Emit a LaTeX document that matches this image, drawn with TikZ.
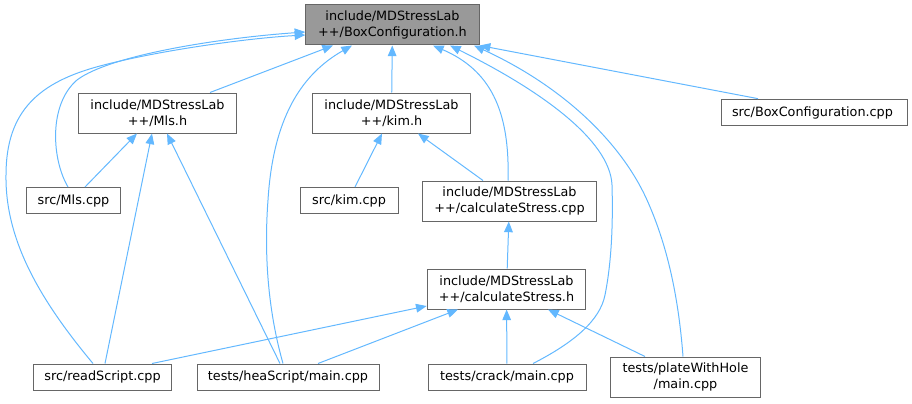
\documentclass[tikz,border=0pt]{standalone}
\usepackage{fontspec}
\setmainfont{DejaVu Sans}
\usepackage{tikz}
\usetikzlibrary{
  arrows.meta,
  positioning
}
\definecolor{EdgeBlue}{HTML}{63B8FF}
\definecolor{NodeBorder}{HTML}{666666}
\definecolor{NodeFill}{HTML}{999999}
\tikzset{
  file/.style={
    draw=NodeBorder,
    line width=0.75pt,
    fill=white,
    align=center,
    inner sep=0pt,
    minimum height=19.5pt
  },
  twoline/.style={
    file,
    minimum height=30pt
  },
  current/.style={
    twoline,
    fill=NodeFill
  },
  incl/.style={
    -{Triangle[length=8pt,width=6.5pt]},
    draw=EdgeBlue,
    line width=0.75pt
  }
}

\begin{document}
\begin{tikzpicture}[
  x=0.75pt,
  y=-0.75pt,
  font=\fontsize{9.6}{11.8}\selectfont
]

  \useasboundingbox (0,0) rectangle (912,403);

  % header that is included by all others
  \node[current, minimum width=130pt] (box) at (392.5,25) {
    include/MDStressLab\\
    ++/BoxConfiguration.h
  };

  % second row
  \node[twoline, minimum width=119pt] (mlsh) at (157.5,113) {
    include/MDStressLab\\
    ++/Mls.h
  };
  \node[twoline, minimum width=119pt] (kimh) at (391.5,113) {
    include/MDStressLab\\
    ++/kim.h
  };
  \node[file, minimum width=139pt, minimum height=20pt] (boxcpp) at (814.5,112.5) {
    src/BoxConfiguration.cpp
  };

  % third row
  \node[file, minimum width=71pt] (mlscpp) at (73.5,200.5) {src/Mls.cpp};
  \node[file, minimum width=73.5pt] (kimcpp) at (349,200.5) {src/kim.cpp};
  \node[twoline, minimum width=131pt] (cscpp) at (509.5,201) {
    include/MDStressLab\\
    ++/calculateStress.cpp
  };

  % fourth row
  \node[twoline, minimum width=119pt] (csh) at (506.5,289) {
    include/MDStressLab\\
    ++/calculateStress.h
  };

  % bottom row
  \node[file, minimum width=104pt] (readscript) at (102.5,377) {src/readScript.cpp};
  \node[file, minimum width=136.5pt] (heascript) at (288,377) {tests/heaScript/main.cpp};
  \node[file, minimum width=118.5pt] (crack) at (507,377) {tests/crack/main.cpp};
  \node[twoline, minimum width=113pt] (plate) at (685.5,377) {
    tests/plateWithHole\\
    /main.cpp
  };

  % edges into BoxConfiguration.h
  \draw[incl] (210,0 |- mlsh.north) -- (333,0 |- box.south);
  \draw[incl] (kimh) -- (box);
  \draw[incl] (758,0 |- boxcpp.north) -- (box.south east);
  \draw[incl]
  (68,0 |- mlscpp.north)
  .. controls (52,160) and (48,105) .. (77,80)
  .. controls (110,55) and (220,38) .. (box.west |- 0,32);
  \draw[incl]
  (93,0 |- readscript.north)
  .. controls (40,300) and (5,240) .. (6,175)
  .. controls (6,110) and (40,82) .. (100,66)
  .. controls (160,50) and (250,38) .. (box.west |- 0,35);
  \draw[incl]
  (283,0 |- heascript.north)
  .. controls (265,300) and (265,240) .. (268,200)
  .. controls (273,120) and (300,75) .. (352,0 |- box.south);
  \draw[incl]
  (508,0 |- cscpp.north)
  .. controls (510,110) and (490,70) .. (433,0 |- box.south);
  \draw[incl]
  (533,0 |- crack.north)
  .. controls (575,342) and (600,320) .. (605,295)
  .. controls (612,260) and (613,220) .. (612,185)
  .. controls (610,140) and (540,90) .. (450,0 |- box.south);
  \draw[incl]
  (683,0 |- plate.north)
  .. controls (678,290) and (665,240) .. (647,200)
  .. controls (620,140) and (560,85) .. (474,0 |- box.south);

  % edges into Mls.h and kim.h
  \draw[incl] (85,0 |- mlscpp.north) -- (137,0 |- mlsh.south);
  \draw[incl] (105,0 |- readscript.north) -- (152,0 |- mlsh.south);
  \draw[incl] (280,0 |- heascript.north) -- (167,0 |- mlsh.south);
  \draw[incl] (355,0 |- kimcpp.north) -- (382,0 |- kimh.south);
  \draw[incl] (483,0 |- cscpp.north) -- (418,0 |- kimh.south);

  % edges into calculateStress
  \draw[incl] (csh) -- (cscpp);
  \draw[incl] (152,0 |- readscript.north) -- (csh.west |- 0,306);
  \draw[incl] (318,0 |- heascript.north) -- (458,0 |- csh.south);
  \draw[incl] (crack) -- (csh);
  \draw[incl] (645,0 |- plate.north) -- (548,0 |- csh.south);

\end{tikzpicture}
\end{document}
